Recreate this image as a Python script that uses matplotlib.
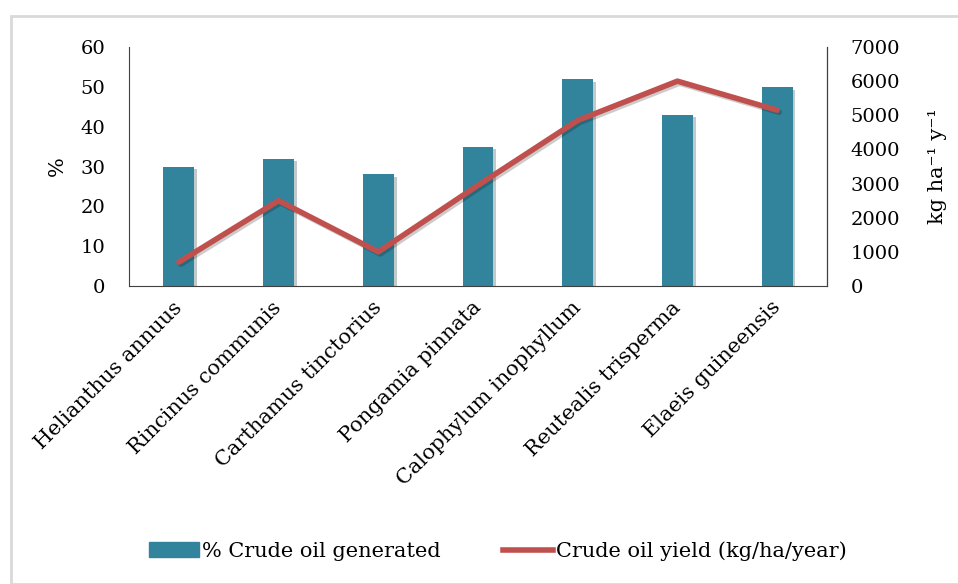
import matplotlib.pyplot as plt
import matplotlib.patches as mpatches
import matplotlib.patheffects as pe
from matplotlib.lines import Line2D
from matplotlib.transforms import ScaledTranslation

species = ['Helianthus annuus', 'Rincinus communis', 'Carthamus tinctorius',
           'Pongamia pinnata', 'Calophylum inophyllum', 'Reutealis trisperma',
           'Elaeis guineensis']
crude_pct = [30, 32, 28, 35, 52, 43, 50]
oil_yield = [700, 2500, 1000, 2950, 4850, 6000, 5150]

plt.rcParams['font.family'] = 'DejaVu Serif'

bar_color = '#31849B'
line_color = '#C0504D'

fig = plt.figure(figsize=(9.58, 5.84), dpi=100)
fig.patches.append(mpatches.Rectangle((11 / 958, 0), 1, 1 - 16 / 584,
                                      transform=fig.transFigure, fill=False,
                                      edgecolor='#d9d9d9', linewidth=2))

ax = fig.add_axes([129 / 958, 1 - 286 / 584, 698 / 958, 239 / 584])
x = range(len(species))
bars = ax.bar(x, crude_pct, width=0.31, color=bar_color, zorder=2)
for b in bars:
    b.set_path_effects([pe.SimplePatchShadow(offset=(2, -2), alpha=0.25),
                        pe.Normal()])
ax.set_ylim(0, 60)
ax.set_xlim(-0.5, len(species) - 0.5)
ax.set_yticks(range(0, 61, 10))
ax.set_ylabel('%', fontsize=15, labelpad=10)
ax.set_xticks(list(x))
ax.tick_params(axis='y', length=0, labelsize=14, pad=17)
ax.tick_params(axis='x', length=0, pad=2)
ax.set_xticklabels(species, rotation=45, ha='right', fontsize=15)
# nudge the rotated labels a little right and down
shift = ScaledTranslation(0.07, -0.09, fig.dpi_scale_trans)
for lbl in ax.get_xticklabels():
    lbl.set_transform(lbl.get_transform() + shift)
ax.spines['top'].set_visible(False)
for s in ['left', 'bottom']:
    ax.spines[s].set_color('#404040')

ax2 = ax.twinx()
ax2.plot(list(x), oil_yield, color=line_color, linewidth=4,
         solid_capstyle='round', solid_joinstyle='round', zorder=3,
         path_effects=[pe.SimpleLineShadow(offset=(1.5, -1.5), alpha=0.2),
                       pe.Normal()])
ax2.set_ylim(0, 7000)
ax2.set_yticks(range(0, 7001, 1000))
ax2.tick_params(axis='y', length=0, labelsize=14, pad=17)
ax2.set_ylabel('kg ha⁻¹ y⁻¹', fontsize=15, labelpad=20)
ax2.spines['top'].set_visible(False)
ax2.spines['right'].set_color('#404040')
ax2.spines['left'].set_visible(False)
ax2.spines['bottom'].set_visible(False)

handles = [mpatches.Patch(color=bar_color),
           Line2D([0], [0], color=line_color, linewidth=4)]
fig.legend(handles, ['% Crude oil generated', 'Crude oil yield (kg/ha/year)'],
           loc='center', bbox_to_anchor=(0.52, 1 - 551 / 584), ncol=2,
           frameon=False, fontsize=15, handlelength=2.4, handletextpad=0.15,
           columnspacing=3.0)

fig.savefig('out.png', dpi=100)
